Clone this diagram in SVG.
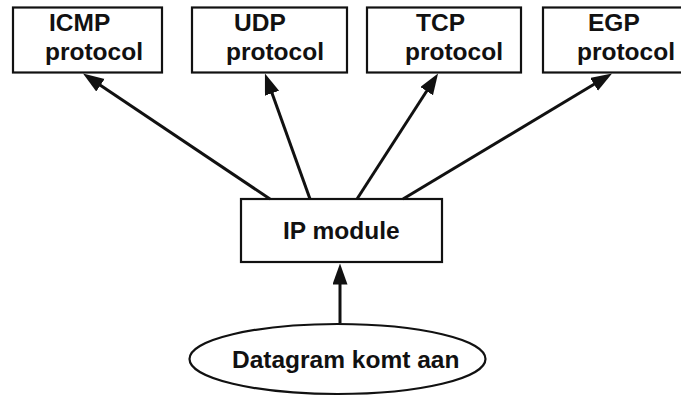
<svg xmlns="http://www.w3.org/2000/svg" width="681" height="397" viewBox="0 0 681 397">
  <style>
    .box { fill: #ffffff; stroke: #111111; stroke-width: 2.2; }
    .lbl { font-family: "Liberation Sans", Arial, sans-serif; font-weight: bold; font-size: 24.5px; fill: #111111; }
    .conn { stroke: #111111; stroke-width: 3; fill: none; marker-end: url(#head); }
  </style>
  <defs>
    <!-- filled triangular arrowhead, 20 long, 15 wide -->
    <marker id="head" markerUnits="userSpaceOnUse" markerWidth="21" markerHeight="16" refX="1" refY="7.5" orient="auto">
      <path d="M0,0 L21,7.5 L0,15 z" fill="#111111"/>
    </marker>
  </defs>
  <rect width="681" height="397" fill="#ffffff"/>

  <g id="icmp">
    <rect class="box" x="13" y="7.5" width="149" height="65"/>
    <text class="lbl" x="49" y="31">ICMP</text>
    <text class="lbl" x="45" y="60">protocol</text>
  </g>
  <g id="udp">
    <rect class="box" x="192" y="7.5" width="155" height="65"/>
    <text class="lbl" x="234" y="31">UDP</text>
    <text class="lbl" x="226" y="60">protocol</text>
  </g>
  <g id="tcp">
    <rect class="box" x="367" y="7.5" width="154" height="65"/>
    <text class="lbl" x="416" y="31">TCP</text>
    <text class="lbl" x="405" y="60">protocol</text>
  </g>
  <g id="egp">
    <rect class="box" x="543" y="7.5" width="160" height="65"/>
    <text class="lbl" x="588" y="31">EGP</text>
    <text class="lbl" x="577" y="60">protocol</text>
  </g>
  <g id="ip-module">
    <rect class="box" x="241" y="199" width="201" height="63"/>
    <text class="lbl" x="283" y="239">IP module</text>
  </g>
  <g id="datagram">
    <ellipse class="box" cx="337.5" cy="359" rx="148" ry="35"/>
    <text class="lbl" x="232" y="368">Datagram komt aan</text>
  </g>

  <g id="connectors">
    <line class="conn" x1="270" y1="199" x2="99.6" y2="84.7"/>
    <line class="conn" x1="310" y1="199" x2="271.7" y2="92.3"/>
    <line class="conn" x1="357" y1="199" x2="427.2" y2="90.3"/>
    <line class="conn" x1="403" y1="199" x2="594.9" y2="83.8"/>
    <line class="conn" x1="340" y1="323" x2="340" y2="283.5"/>
  </g>
</svg>
